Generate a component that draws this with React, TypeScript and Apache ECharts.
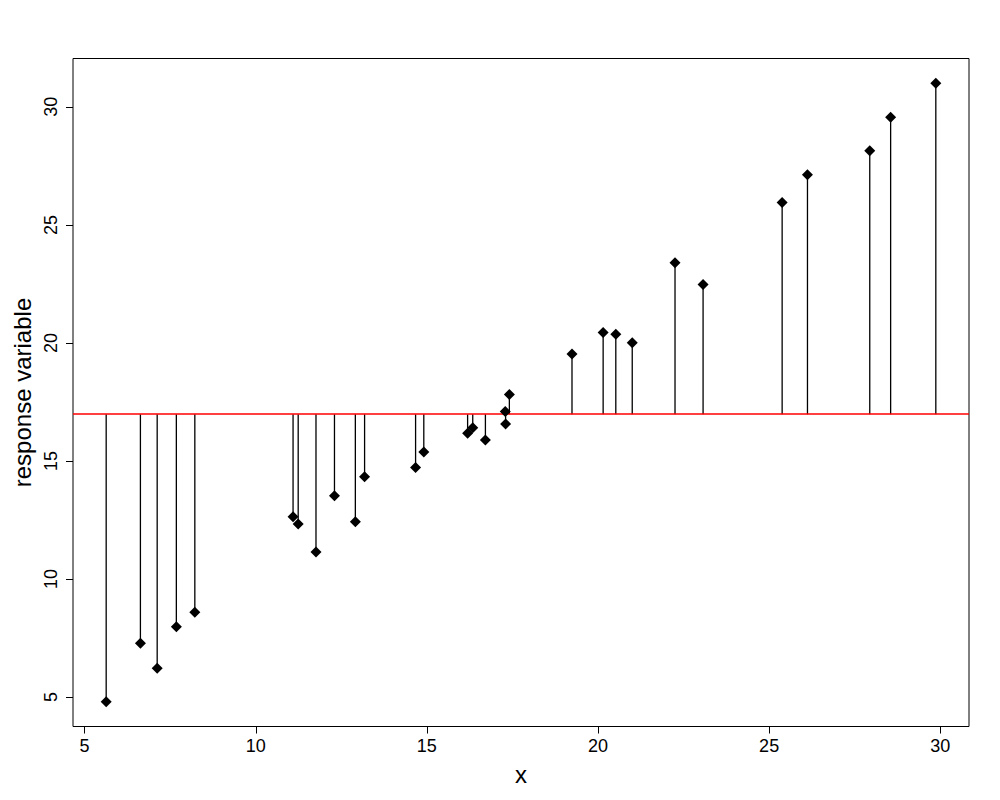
import React, { useEffect, useRef } from "react";
import * as echarts from "echarts";

const xVals = [
  5.63, 6.63, 7.12, 7.68, 8.22, 11.09, 11.24, 11.76, 12.3, 12.91, 13.18, 14.67,
  14.91, 16.19, 16.34, 16.71, 17.3, 17.29, 17.41, 19.24, 20.15, 20.52, 21.0,
  22.25, 23.07, 25.38, 26.12, 27.94, 28.55, 29.87,
];
const yVals = [
  4.8, 7.28, 6.22, 7.98, 8.59, 12.64, 12.33, 11.14, 13.53, 12.42, 14.33, 14.72,
  15.38, 16.17, 16.41, 15.89, 16.57, 17.09, 17.81, 19.53, 20.44, 20.37, 20.01,
  23.4, 22.47, 25.95, 27.12, 28.14, 29.56, 31.0,
];
const xTicks = [5, 10, 15, 20, 25, 30];
const yTicks = [5, 10, 15, 20, 25, 30];
const xTitle = "x";
const yTitle = "response variable";

const FONT = "Liberation Sans, Arial, sans-serif";

export default function App() {
  const ref = useRef<HTMLDivElement>(null);
  useEffect(() => {
    if (!ref.current) return;
    const chart = echarts.init(ref.current, null, { renderer: "svg" });
    const points = xVals.map((x, i) => [x, yVals[i]]);
    const meanY = yVals.reduce((a, b) => a + b, 0) / yVals.length;
    const xMin = Math.min(...xVals);
    const xMax = Math.max(...xVals);
    const yMin = Math.min(...yVals);
    const yMax = Math.max(...yVals);
    const xPad = (xMax - xMin) * 0.04;
    const yPad = (yMax - yMin) * 0.04;

    chart.setOption({
      animation: false,
      backgroundColor: "#ffffff",
      grid: {
        left: 73,
        top: 58.5,
        width: 896,
        height: 668,
        show: true,
        borderColor: "#000000",
        borderWidth: 1,
        backgroundColor: "transparent",
      },
      xAxis: {
        type: "value",
        min: xMin - xPad,
        max: xMax + xPad,
        name: xTitle,
        nameLocation: "middle",
        nameGap: 36,
        nameTextStyle: { fontFamily: FONT, fontSize: 24, color: "#000" },
        axisLine: { show: false },
        splitLine: { show: false },
        axisTick: {
          show: true,
          length: 7,
          inside: false,
          lineStyle: { color: "#000", width: 1 },
          customValues: xTicks,
        },
        axisLabel: {
          fontFamily: FONT,
          fontSize: 18,
          color: "#000",
          margin: 10,
          customValues: xTicks,
        },
      },
      yAxis: {
        type: "value",
        min: yMin - yPad,
        max: yMax + yPad,
        name: yTitle,
        nameLocation: "middle",
        nameGap: 38,
        nameRotate: 90,
        nameTextStyle: { fontFamily: FONT, fontSize: 24, color: "#000" },
        axisLine: { show: false },
        splitLine: { show: false },
        axisTick: {
          show: true,
          length: 7,
          inside: false,
          lineStyle: { color: "#000", width: 1 },
          customValues: yTicks,
        },
        axisLabel: {
          fontFamily: FONT,
          fontSize: 18,
          color: "#000",
          rotate: 90,
          margin: 13,
          customValues: yTicks,
        },
      },
      series: [
        {
          type: "custom",
          data: points,
          encode: { x: 0, y: 1 },
          z: 2,
          silent: true,
          renderItem: (params: any, api: any) => {
            const x = api.value(0);
            const y = api.value(1);
            const p0 = api.coord([x, meanY]);
            const p1 = api.coord([x, y]);
            return {
              type: "line",
              shape: { x1: p0[0], y1: p0[1], x2: p1[0], y2: p1[1] },
              style: { stroke: "#000000", lineWidth: 1.3 },
            };
          },
        },
        {
          type: "scatter",
          data: points,
          symbol: "diamond",
          symbolSize: 11,
          z: 4,
          itemStyle: { color: "#000000", opacity: 1 },
          markLine: {
            silent: true,
            symbol: ["none", "none"],
            label: { show: false },
            z: 3,
            lineStyle: { color: "#ff0000", type: "solid", width: 1.5, opacity: 1 },
            data: [{ yAxis: meanY }],
          },
        },
      ],
    });
    return () => chart.dispose();
  }, []);
  return (
    <div
      ref={ref}
      style={{ position: "fixed", left: 0, top: 0, width: 1000, height: 800 }}
    />
  );
}
